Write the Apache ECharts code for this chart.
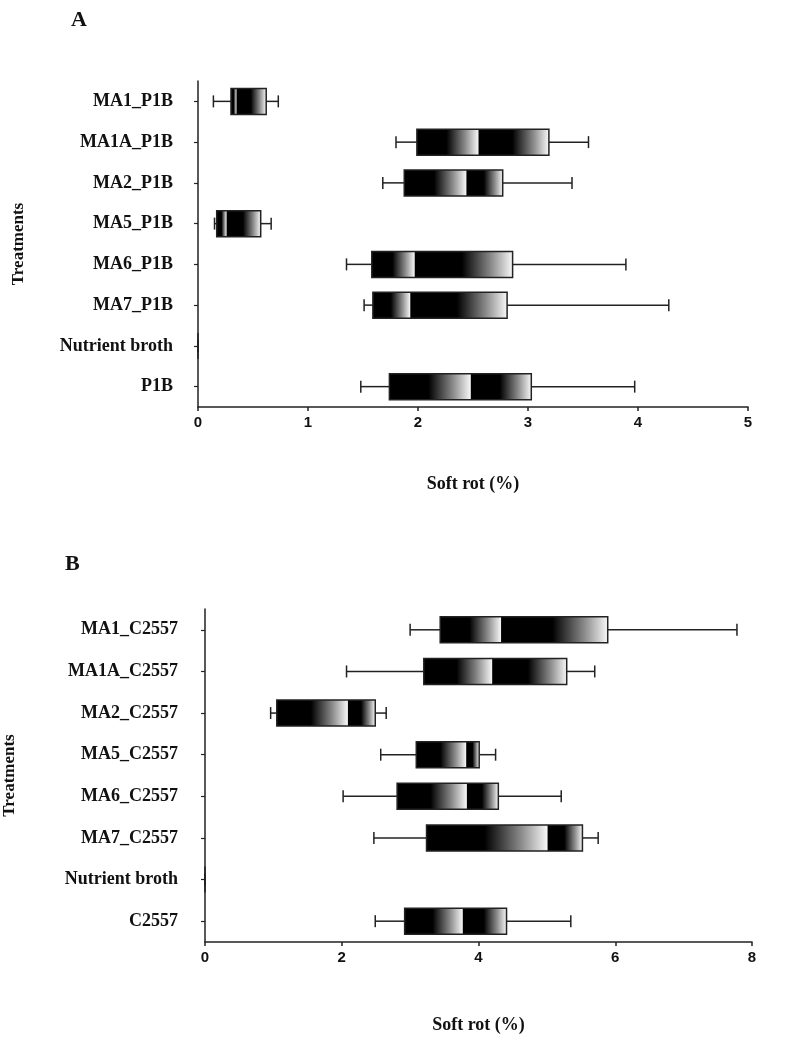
<!DOCTYPE html>
<html>
<head>
<meta charset="utf-8">
<script src="https://cdn.jsdelivr.net/npm/echarts@6/dist/echarts.min.js"></script>
<style>
html,body{margin:0;padding:0;background:#fff;}
#chart{width:786px;height:1049px;}
</style>
</head>
<body>
<div id="chart"></div>
<script>
// Panel A (P1B)
const categoriesA = ['MA1_P1B','MA1A_P1B','MA2_P1B','MA5_P1B','MA6_P1B','MA7_P1B','Nutrient broth','P1B'];
const lowA    = [0.14, 1.80, 1.68, 0.15, 1.35, 1.51, 0, 1.48];
const q1A     = [0.30, 1.99, 1.875, 0.17, 1.58, 1.59, 0, 1.74];
const medianA = [0.35, 2.55, 2.44, 0.26, 1.97, 1.93, 0, 2.48];
const q3A     = [0.62, 3.19, 2.77, 0.57, 2.86, 2.81, 0, 3.03];
const highA   = [0.73, 3.55, 3.40, 0.665, 3.89, 4.28, 0, 3.97];
const ticksA  = [0, 1, 2, 3, 4, 5];

// Panel B (C2557)
const categoriesB = ['MA1_C2557','MA1A_C2557','MA2_C2557','MA5_C2557','MA6_C2557','MA7_C2557','Nutrient broth','C2557'];
const lowB    = [3.00, 2.07, 0.96, 2.57, 2.02, 2.47, 0, 2.49];
const q1B     = [3.44, 3.20, 1.05, 3.09, 2.81, 3.24, 0, 2.92];
const medianB = [4.33, 4.20, 2.09, 3.82, 3.83, 5.01, 0, 3.77];
const q3B     = [5.89, 5.29, 2.49, 4.01, 4.29, 5.52, 0, 4.41];
const highB   = [7.78, 5.70, 2.65, 4.25, 5.21, 5.75, 0, 5.35];
const ticksB  = [0, 2, 4, 6, 8];

const xTitle = 'Soft rot (%)';
const yTitle = 'Treatments';

function build(cats, lo, q1, md, q3, hi) {
  return cats.map((c, i) => [i, lo[i], q1[i], md[i], q3[i], hi[i]]);
}

const BOX_H = 26, CAP_H = 12, STROKE = '#222';
function grad() {
  return new echarts.graphic.LinearGradient(0, 0, 1, 0, [
    {offset: 0, color: '#000'},
    {offset: 0.48, color: '#000'},
    {offset: 0.78, color: '#8a8a8a'},
    {offset: 1, color: '#f8f8f8'}
  ]);
}
function renderBox(params, api) {
  const cat = api.value(0);
  const pl = api.coord([api.value(1), cat]);
  const p1 = api.coord([api.value(2), cat]);
  const pm = api.coord([api.value(3), cat]);
  const p3 = api.coord([api.value(4), cat]);
  const ph = api.coord([api.value(5), cat]);
  const y = pl[1];
  const lineStyle = {stroke: STROKE, lineWidth: 1.5};
  return {
    type: 'group',
    children: [
      {type: 'line', shape: {x1: pl[0], y1: y, x2: p1[0], y2: y}, style: lineStyle},
      {type: 'line', shape: {x1: pl[0], y1: y - CAP_H/2, x2: pl[0], y2: y + CAP_H/2}, style: lineStyle},
      {type: 'line', shape: {x1: p3[0], y1: y, x2: ph[0], y2: y}, style: lineStyle},
      {type: 'line', shape: {x1: ph[0], y1: y - CAP_H/2, x2: ph[0], y2: y + CAP_H/2}, style: lineStyle},
      {type: 'rect', shape: {x: p1[0], y: y - BOX_H/2, width: pm[0] - p1[0], height: BOX_H}, style: {fill: grad()}},
      {type: 'rect', shape: {x: pm[0], y: y - BOX_H/2, width: p3[0] - pm[0], height: BOX_H}, style: {fill: grad()}},
      {type: 'rect', shape: {x: p1[0], y: y - BOX_H/2, width: p3[0] - p1[0], height: BOX_H}, style: {fill: 'none', stroke: STROKE, lineWidth: 1.5}}
    ]
  };
}

const serif = 'Liberation Serif, Times New Roman, serif';
const sans = 'Liberation Sans, Arial, sans-serif';

function xAxisCfg(gridIndex, ticks, gap) {
  return {
    type: 'value', gridIndex,
    min: ticks[0], max: ticks[ticks.length - 1], interval: ticks[1] - ticks[0],
    name: xTitle, nameLocation: 'middle', nameGap: gap,
    nameTextStyle: {fontFamily: serif, fontWeight: 'bold', fontSize: 18, color: '#111'},
    axisLine: {show: true, lineStyle: {color: '#222', width: 1.5}},
    axisTick: {show: true, length: 4, lineStyle: {color: '#222', width: 1.5}},
    axisLabel: {fontFamily: sans, fontWeight: 'bold', fontSize: 15, color: '#111', margin: 8},
    splitLine: {show: false}
  };
}
function yAxisCfg(gridIndex, cats, margin, gap) {
  return {
    type: 'category', gridIndex, data: cats, inverse: true,
    name: yTitle, nameLocation: 'middle', nameGap: gap, nameRotate: 90,
    nameTextStyle: {fontFamily: serif, fontWeight: 'bold', fontSize: 17, color: '#111'},
    axisLine: {show: true, lineStyle: {color: '#222', width: 1.5}},
    axisTick: {show: true, alignWithLabel: true, length: 4, lineStyle: {color: '#222', width: 1.2}},
    axisLabel: {fontFamily: serif, fontWeight: 'bold', fontSize: 18, color: '#111', margin: margin},
    splitLine: {show: false}
  };
}

const chart = echarts.init(document.getElementById('chart'), null, {renderer: 'canvas'});
chart.setOption({
  backgroundColor: '#fff',
  animation: false,
  title: [
    {text: 'A', left: 66, top: 4, textStyle: {fontFamily: serif, fontWeight: 'bold', fontSize: 22, color: '#111'}},
    {text: 'B', left: 60, top: 548, textStyle: {fontFamily: serif, fontWeight: 'bold', fontSize: 22, color: '#111'}}
  ],
  grid: [
    {left: 198, right: 38, top: 81, height: 326, containLabel: false, outerBoundsMode: 'none'},
    {left: 205, right: 34, top: 609, height: 333, containLabel: false, outerBoundsMode: 'none'}
  ],
  xAxis: [xAxisCfg(0, ticksA, 68), xAxisCfg(1, ticksB, 74)],
  yAxis: [yAxisCfg(0, categoriesA, 25, 171), yAxisCfg(1, categoriesB, 27, 187)],
  series: [
    {type: 'custom', xAxisIndex: 0, yAxisIndex: 0, renderItem: renderBox,
     encode: {x: [1, 2, 3, 4, 5], y: 0},
     data: build(categoriesA, lowA, q1A, medianA, q3A, highA)},
    {type: 'custom', xAxisIndex: 1, yAxisIndex: 1, renderItem: renderBox,
     encode: {x: [1, 2, 3, 4, 5], y: 0},
     data: build(categoriesB, lowB, q1B, medianB, q3B, highB)}
  ]
});
</script>
</body>
</html>
